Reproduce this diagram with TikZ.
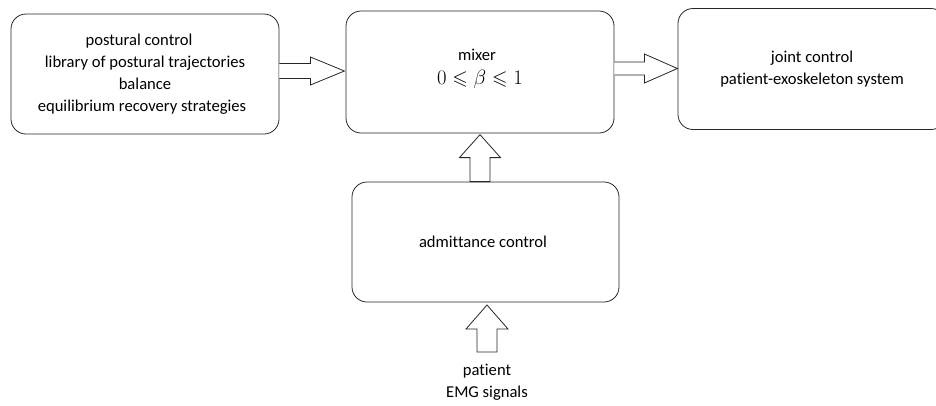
\documentclass[tikz,border=0pt]{standalone}
\usepackage{amssymb}
\usepackage{fontspec}
\setmainfont[Ligatures=CommonOff]{Carlito}
\usetikzlibrary{calc}
\begin{document}
\begin{tikzpicture}[x=1bp,y=-1bp,
  blk/.style={draw=black!85,line width=0.8bp,rounded corners=15bp,minimum width=268bp,minimum height=120bp,align=center,inner sep=0pt,font=\fontsize{16.6bp}{22bp}\selectfont},
  barrow/.style={draw=black!85,line width=0.8bp,fill=white,line join=miter}]
\useasboundingbox (0,0) rectangle (936,405);
\node[blk] (b1) at (145,74) {postural control\hspace*{12bp}\\library of postural trajectories\hspace*{17bp}\\balance\hspace*{37bp}\\equilibrium recovery strategies\hspace*{6bp}};
\node[blk,minimum height=122bp] (b2) at (480,72) {mixer\hspace*{6bp}\\[2bp]{\fontsize{20bp}{22bp}\selectfont$0\leqslant\beta\leqslant1$}\hspace*{16bp}\\[-11bp]};
\node[blk,minimum height=121bp] (b3) at (812,69) {joint control\\patient-exoskeleton system};
\node[blk,minimum width=267bp] (b4) at (485.5,242) {admittance control\hspace*{5bp}};
\node[align=center,font=\fontsize{16.6bp}{22bp}\selectfont,anchor=north] (emg) at (487,361) {patient\\EMG signals};
\coordinate (a1s) at (b1.east |- 0,71);
\coordinate (a2s) at (b2.east |- 0,68.5);
\coordinate (a3s) at (b4.north -| 480,0);
\coordinate (a4s) at (emg.north -| 487,0);
\begin{scope}[shift={(a1s)}]
\draw[barrow] (0,-7.5) -- (31,-7.5) -- (31,-14) -- (65,0) -- (31,14) -- (31,7.5) -- (0,7.5);
\end{scope}
\begin{scope}[shift={(a2s)}]
\draw[barrow] (0,-6.5) -- (30,-6.5) -- (30,-14.5) -- (63,0) -- (30,14.5) -- (30,6.5) -- (0,6.5);
\end{scope}
\begin{scope}[shift={(a3s)}]
\draw[barrow] (-10,0) -- (-10,-24) -- (-20.5,-24) -- (0,-47) -- (20.5,-24) -- (10,-24) -- (10,0) -- cycle;
\end{scope}
\begin{scope}[shift={(a4s)}]
\draw[barrow] (-10,-9) -- (-10,-32) -- (-21,-32) -- (0,-56) -- (21,-32) -- (10,-32) -- (10,-9) -- cycle;
\end{scope}
\end{tikzpicture}
\end{document}
